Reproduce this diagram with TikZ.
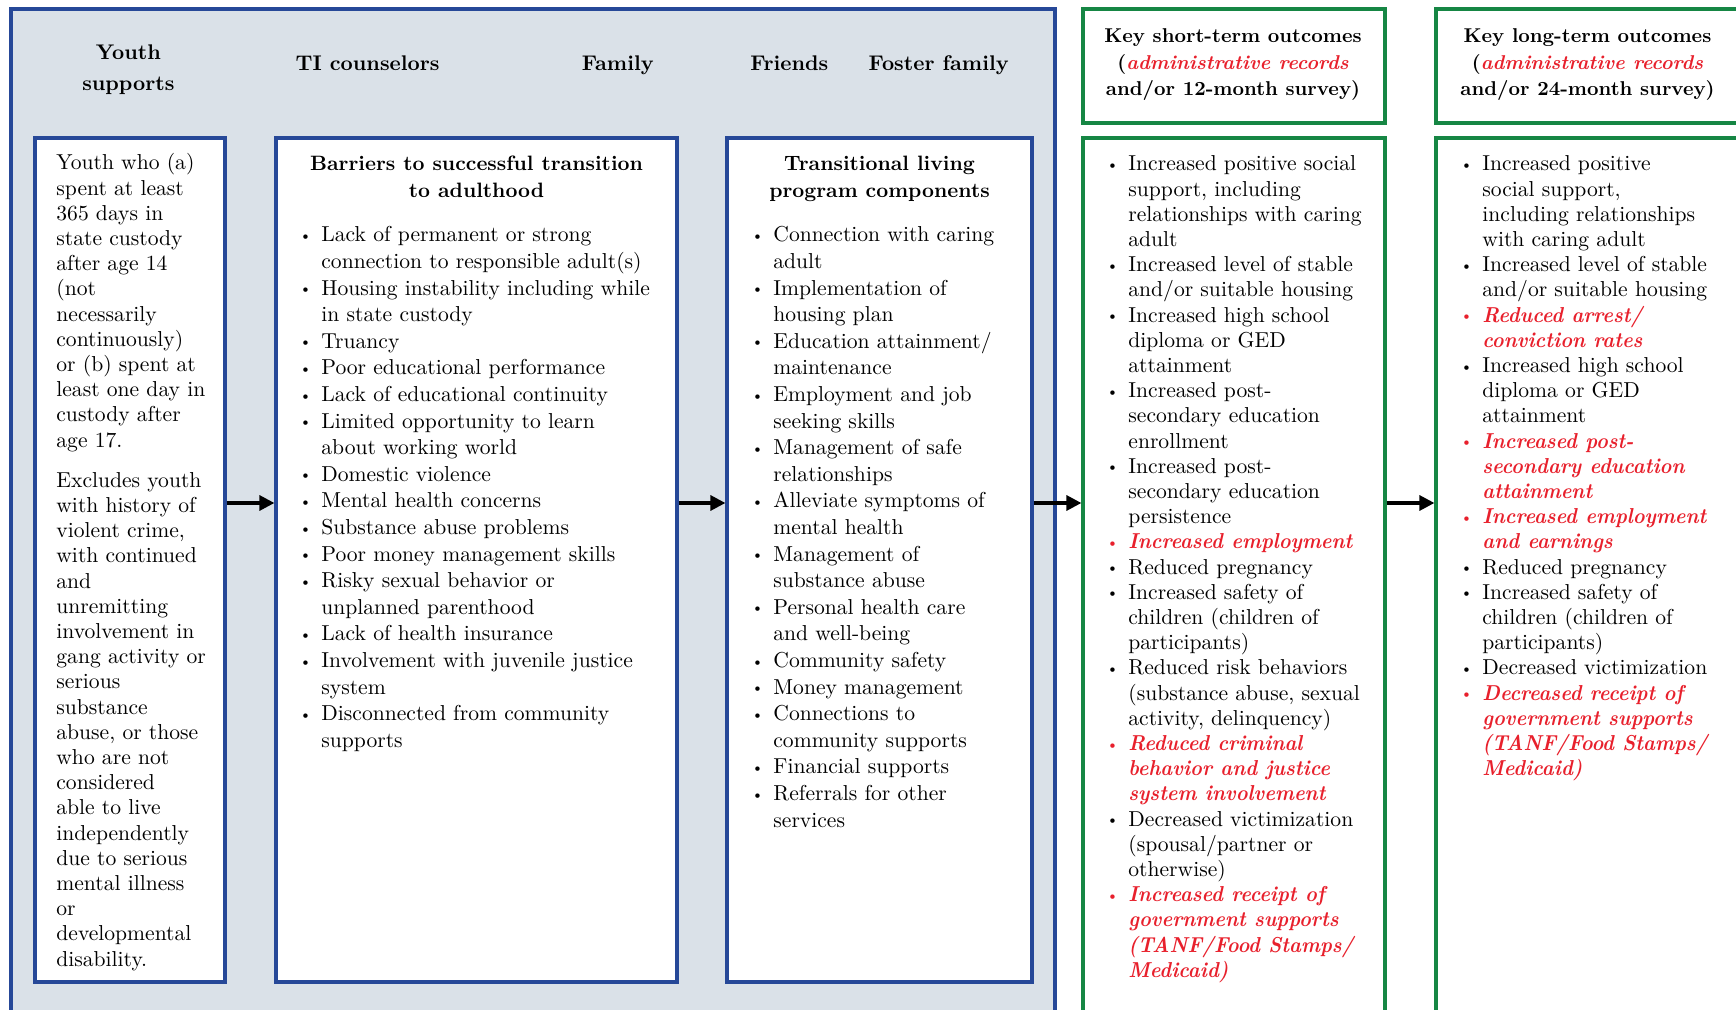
\documentclass[tikz,border=0pt]{standalone}
\usepackage{tikz}
\usetikzlibrary{arrows.meta, fit, positioning}
\usepackage{xcolor}
\usepackage{graphicx}
\definecolor{frameblue}{RGB}{38,72,152}
\definecolor{panelgray}{RGB}{218,225,232}
\definecolor{framegreen}{RGB}{22,134,68}
\definecolor{recordred}{RGB}{232,32,44}
\newcommand{\bul}{\makebox[11pt][l]{\raisebox{0.7pt}{\fontsize{7.5}{7.5}\selectfont\textbullet}}}
\newcommand{\ind}{\hspace*{11pt}}
\newcommand{\rosso}[1]{{\color{recordred}\bfseries\itshape #1}}
\newcommand{\rossobul}[1]{{\color{recordred}\bul\bfseries\itshape\scalebox{0.93}[1]{#1}}}
\newcommand{\rossoind}[1]{\ind{\color{recordred}\bfseries\itshape\scalebox{0.93}[1]{#1}}}

\begin{document}
\begin{tikzpicture}[x=0.5pt, y=-0.5pt,
    panel/.style={draw=frameblue, fill=panelgray, line width=1.6pt, inner sep=0pt},
    bluebox/.style={draw=frameblue, fill=white, line width=1.6pt, inner sep=0pt},
    greenbox/.style={draw=framegreen, fill=white, line width=1.6pt, inner sep=0pt},
    headtext/.style={anchor=base, align=center, inner sep=0pt, font=\fontsize{10.6}{15.5}\selectfont\bfseries},
    boxtitle/.style={anchor=base, align=center, inner sep=0pt, font=\fontsize{10.4}{13.3}\selectfont\bfseries},
    outtitle/.style={anchor=base, align=center, inner sep=0pt, font=\fontsize{10}{13.3}\selectfont\bfseries},
    listtext/.style={anchor=base west, align=left, inner sep=0pt, font=\fontsize{10.8}{13.3}\selectfont},
    outtext/.style={anchor=base west, align=left, inner sep=0pt, font=\fontsize{10.8}{12.6}\selectfont},
    freccia/.style={-{Triangle[length=7.5pt,width=7.5pt]}, line width=1.6pt}]
    % Parametri (le ancore base cadono sull'ultima riga)
    \pgfmathsetmacro{\topbox}{138}
    \pgfmathsetmacro{\botbox}{982}
    \pgfmathsetmacro{\basetitle}{170.9}
    \pgfmathsetmacro{\baselist}{241.8}
    \pgfmathsetmacro{\passo}{26.6}
    \pgfmathsetmacro{\passout}{25.2}
    \useasboundingbox (0,0) rectangle (1736,1010);
    \fill[white] (0,0) rectangle (1736,1010);
    \clip (0,0) rectangle (1736,1010);

    % Riquadro esterno e intestazioni
    \node[panel, fit={(11,9) (1055,1040)}] (supports) {};
    \node[headtext] (youthsup) at (128.4,90.2) {Youth\\supports};
    \node[headtext] (ticouns) at (367.5,70.2) {TI counselors};
    \node[headtext] (family) at (617.7,70.2) {Family};
    \node[headtext] (friends) at (789.3,70.2) {Friends};
    \node[headtext] (fosterfam) at (938.7,70.2) {Foster family};

    % Riquadri blu
    \node[bluebox, fit={(35,\topbox) (225,\botbox)}] (youth) {};
    \node[bluebox, fit={(276,\topbox) (677,\botbox)}] (barriers) {};
    \node[bluebox, fit={(727,\topbox) (1032,\botbox)}] (tlp) {};

    % Riquadri verdi
    \node[greenbox, fit={(1083,9) (1385,123)}] (shorthead) {};
    \node[greenbox, fit={(1436,9) (1740,123)}] (longhead) {};
    \node[greenbox, fit={(1083,\topbox) (1385,1040)}] (shortbox) {};
    \node[greenbox, fit={(1436,\topbox) (1740,1040)}] (longbox) {};

    % Testi
    \node[outtext] (youthtext) at (56,{169.8+31*\passout+15}) {Youth who (a)\\spent at least\\365 days in\\state custody\\after age 14\\(not\\necessarily\\continuously)\\or (b) spent at\\least one day in\\custody after\\age 17.\\[7.5pt]
        Excludes youth\\with history of\\violent crime,\\with continued\\and\\unremitting\\involvement in\\gang activity or\\serious\\substance\\abuse, or those\\who are not\\considered\\able to live\\independently\\due to serious\\mental illness\\or\\developmental\\disability.};

    \node[boxtitle] (barrierstitle) at (476.5,{\basetitle+\passo}) {Barriers to successful transition\\to adulthood};
    \node[listtext] (barrierslist) at (299,{\baselist+19*\passo}) {\bul Lack of permanent or strong\\\ind connection to responsible adult(s)\\
        \bul Housing instability including while\\\ind in state custody\\
        \bul Truancy\\
        \bul Poor educational performance\\
        \bul Lack of educational continuity\\
        \bul Limited opportunity to learn\\\ind about working world\\
        \bul Domestic violence\\
        \bul Mental health concerns\\
        \bul Substance abuse problems\\
        \bul Poor money management skills\\
        \bul Risky sexual behavior or\\\ind unplanned parenthood\\
        \bul Lack of health insurance\\
        \bul Involvement with juvenile justice\\\ind system\\
        \bul Disconnected from community\\\ind supports};

    \node[boxtitle] (tlptitle) at (879.5,{\basetitle+\passo}) {Transitional living\\program components};
    \node[listtext] (tlplist) at (751,{\baselist+22*\passo}) {\bul Connection with caring\\\ind adult\\
        \bul Implementation of\\\ind housing plan\\
        \bul Education attainment/\\\ind maintenance\\
        \bul Employment and job\\\ind seeking skills\\
        \bul Management of safe\\\ind relationships\\
        \bul Alleviate symptoms of\\\ind mental health\\
        \bul Management of\\\ind substance abuse\\
        \bul Personal health care\\\ind and well-being\\
        \bul Community safety\\
        \bul Money management\\
        \bul Connections to\\\ind community supports\\
        \bul Financial supports\\
        \bul Referrals for other\\\ind services};

    \node[outtitle] (shorttitle) at (1233,{42.5+2*\passo}) {Key short-term outcomes\\(\rosso{administrative records}\\and/or 12-month survey)};
    \node[outtitle] (longtitle) at (1587.5,{42.5+2*\passo}) {Key long-term outcomes\\(\rosso{administrative records}\\and/or 24-month survey)};

    \node[outtext] (shortlist) at (1106,{\basetitle+32*\passout}) {\bul Increased positive social\\\ind support, including\\\ind relationships with caring\\\ind adult\\
        \bul Increased level of stable\\\ind and/or suitable housing\\
        \bul Increased high school\\\ind diploma or GED\\\ind attainment\\
        \bul Increased post-\\\ind secondary education\\\ind enrollment\\
        \bul Increased post-\\\ind secondary education\\\ind persistence\\
        \rossobul{Increased employment}\\
        \bul Reduced pregnancy\\
        \bul Increased safety of\\\ind children (children of\\\ind participants)\\
        \bul Reduced risk behaviors\\\ind (substance abuse, sexual\\\ind activity, delinquency)\\
        \rossobul{Reduced criminal}\\\rossoind{behavior and justice}\\\rossoind{system involvement}\\
        \bul Decreased victimization\\\ind (spousal/partner or\\\ind otherwise)\\
        \rossobul{Increased receipt of}\\\rossoind{government supports}\\\rossoind{(TANF/Food Stamps/}\\\rossoind{Medicaid)}};

    \node[outtext] (longlist) at (1460,{\basetitle+24*\passout}) {\bul Increased positive\\\ind social support,\\\ind including relationships\\\ind with caring adult\\
        \bul Increased level of stable\\\ind and/or suitable housing\\
        \rossobul{Reduced arrest/}\\\rossoind{conviction rates}\\
        \bul Increased high school\\\ind diploma or GED\\\ind attainment\\
        \rossobul{Increased post-}\\\rossoind{secondary education}\\\rossoind{attainment}\\
        \rossobul{Increased employment}\\\rossoind{and earnings}\\
        \bul Reduced pregnancy\\
        \bul Increased safety of\\\ind children (children of\\\ind participants)\\
        \bul Decreased victimization\\
        \rossobul{Decreased receipt of}\\\rossoind{government supports}\\\rossoind{(TANF/Food Stamps/}\\\rossoind{Medicaid)}};

    % Frecce
    \coordinate (riga) at (0,503);
    \draw[freccia] (youth.east |- riga) -- (barriers.west |- riga);
    \draw[freccia] (barriers.east |- riga) -- (tlp.west |- riga);
    \draw[freccia] (tlp.east |- riga) -- (shortbox.west |- riga);
    \draw[freccia] (shortbox.east |- riga) -- (longbox.west |- riga);
\end{tikzpicture}
\end{document}
